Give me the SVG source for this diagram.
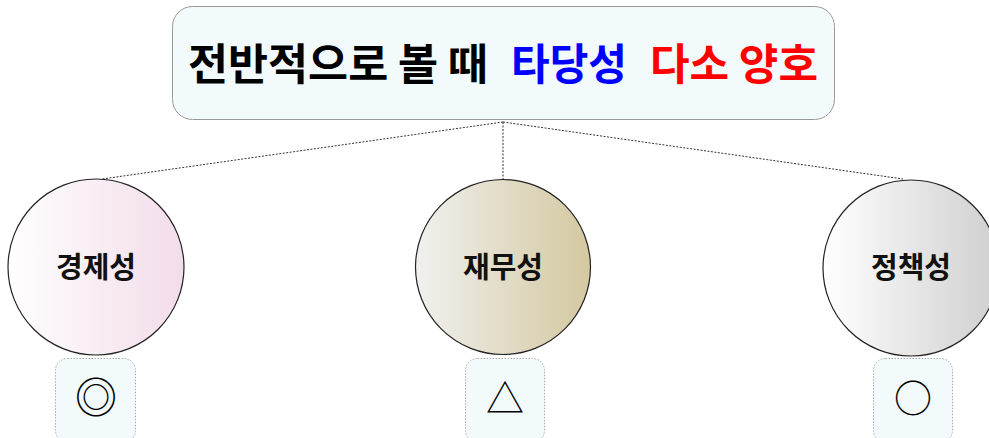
<svg xmlns="http://www.w3.org/2000/svg" width="989" height="438" viewBox="0 0 989 438">
<defs>
<linearGradient id="gPink" x1="0" y1="0" x2="1" y2="0"><stop offset="0" stop-color="#ffffff"/><stop offset="1" stop-color="#f2dcea"/></linearGradient>
<linearGradient id="gTan" x1="0" y1="0" x2="1" y2="0"><stop offset="0" stop-color="#f0f0ef"/><stop offset="1" stop-color="#d4c8a0"/></linearGradient>
<linearGradient id="gGray" x1="0" y1="0" x2="1" y2="0"><stop offset="0" stop-color="#ffffff"/><stop offset="1" stop-color="#cfcfcf"/></linearGradient>
<style>
.title{font-family:"Noto Sans CJK KR","Noto Sans",sans-serif;font-weight:bold;font-size:43px}
.lbl{font-family:"Noto Sans CJK KR","Noto Sans",sans-serif;font-weight:bold;font-size:29px;fill:#111;text-anchor:middle}
.sym{font-family:"Noto Sans CJK KR","DejaVu Sans",sans-serif;font-size:38px;fill:#000;text-anchor:middle}
.circ{stroke:#222;stroke-width:1.2}
.box{fill:#f2fafc;stroke:#aaaaaa;stroke-width:1;stroke-dasharray:1.5 1.5}
.conn{fill:none;stroke:#333;stroke-width:1;stroke-dasharray:2 1.5}
</style>
</defs>
<rect width="989" height="438" fill="#ffffff"/>
<g id="connectors">
<line class="conn" x1="503" y1="122" x2="102" y2="179"/>
<line class="conn" x1="503" y1="122" x2="503" y2="179"/>
<line class="conn" x1="503" y1="122" x2="903" y2="179"/>
</g>
<g id="title">
<rect x="172.5" y="6.5" width="662" height="113" rx="20" fill="#f2fafc" stroke="#999" stroke-width="1"/>
<text class="title" x="188" y="80" fill="#000" textLength="300" lengthAdjust="spacingAndGlyphs">전반적으로 볼 때</text>
<text class="title" x="511" y="80" fill="#0000ff" textLength="116" lengthAdjust="spacingAndGlyphs">타당성</text>
<text class="title" x="650" y="80" fill="#ff0000" textLength="168" lengthAdjust="spacingAndGlyphs">다소 양호</text>
</g>
<g id="economy">
<circle class="circ" cx="96" cy="267" r="88" fill="url(#gPink)"/>
<text class="lbl" x="96" y="278">경제성</text>
</g>
<g id="finance">
<circle class="circ" cx="503" cy="267" r="87.5" fill="url(#gTan)"/>
<text class="lbl" x="503" y="278">재무성</text>
</g>
<g id="policy">
<circle class="circ" cx="911" cy="268" r="88" fill="url(#gGray)"/>
<text class="lbl" x="911" y="278">정책성</text>
</g>
<g id="mark-economy">
<rect class="box" x="55.5" y="358.5" width="80" height="84" rx="12"/>
<text class="sym" x="96" y="413" style="font-size:42px">◎</text>
</g>
<g id="mark-finance">
<rect class="box" x="465.5" y="358.5" width="79" height="84" rx="12"/>
<text class="sym" x="505" y="412">△</text>
</g>
<g id="mark-policy">
<rect class="box" x="873.5" y="358.5" width="79" height="84" rx="12"/>
<text class="sym" x="913" y="412">○</text>
</g>
</svg>
